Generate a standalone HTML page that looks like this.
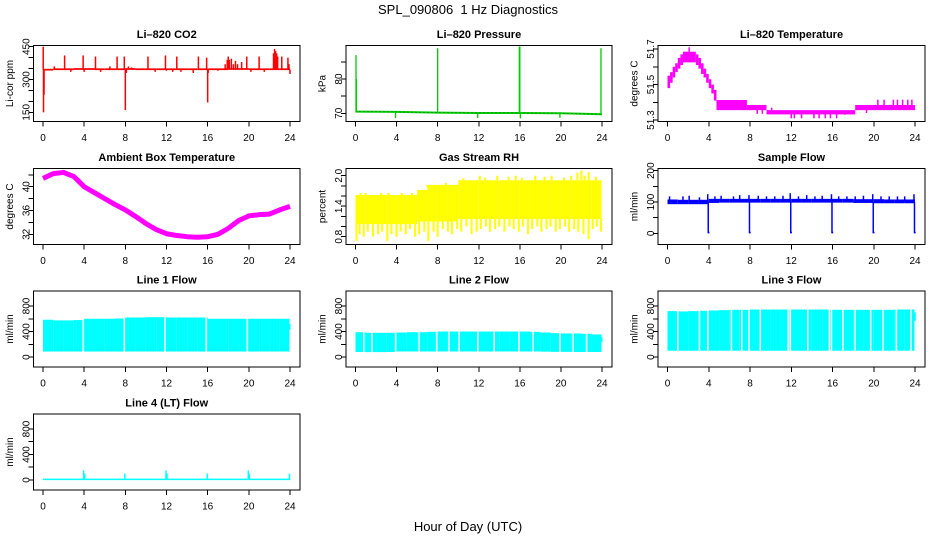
<!DOCTYPE html>
<html><head><meta charset="utf-8"><title>SPL_090806 1 Hz Diagnostics</title>
<style>
html,body{margin:0;padding:0;background:#fff;}
svg{display:block;font-family:"Liberation Sans",Arial,sans-serif;}
</style></head>
<body>
<svg id="chart" width="936" height="540" viewBox="0 0 936 540" xmlns="http://www.w3.org/2000/svg">
<text x="468" y="14" font-size="13" text-anchor="middle">SPL_090806&#160; 1 Hz Diagnostics</text>
<text x="468" y="531" font-size="13" text-anchor="middle">Hour of Day (UTC)</text>
</svg>
<script>
// ---------- data ----------
const xTicks = [0,4,8,12,16,20,24];

// CO2
const co2Hours = [0,1,2,3,4,5,6,7,8,9,10,11,12,13,14,15,16,17,18,19,20,21,22,23,24];
const co2Base = [345,347,347,348,348,347,347,347,348,347,347,347,347,347,347,347,347,347,348,348,347,347,347,347,345];
const co2SpikeHours = [0.02,0.05,0.1,1.1,2.1,2.7,3.9,4.0,5.1,5.6,6.5,7.2,7.9,8.0,8.1,8.3,8.6,10.2,10.9,11.9,12.0,12.6,13.0,13.4,14.6,15.1,15.9,16.0,16.05,17.0,17.7,17.9,18.0,18.1,18.3,18.5,18.7,18.9,19.3,19.8,20.2,21.0,21.5,22.4,22.5,22.6,22.7,22.8,23.2,23.8,23.9,24.0];
const co2SpikeVals = [450,150,230,360,410,335,410,335,405,335,360,405,405,160,330,360,355,405,335,410,340,335,405,335,330,405,400,195,330,340,370,390,405,390,395,370,385,370,380,405,335,405,335,420,440,430,420,405,405,400,370,325];

// Pressure
const presHours = [0,4,8,12,16,20,24];
const presBase = [70.5,70.4,70.2,70.1,70.1,70.0,69.7];
const presSpikeHours = [0.05,0.08,3.9,8.0,11.9,15.95,16.0,16.05,19.9,23.9];
const presSpikeVals = [87,80,68.6,89,68.6,89.5,89.5,68.5,68.7,89];

// Li-820 temperature (step envelope)
const tempHours = [0,0.25,0.5,0.75,1.0,1.25,1.5,2.75,3.0,3.25,3.5,3.75,4.0,4.25,4.5,4.75,7.7,9.6,18.2,24];
const tempLo = [51.48,51.51,51.54,51.57,51.59,51.61,51.625,51.61,51.59,51.56,51.54,51.51,51.48,51.45,51.41,51.356,51.356,51.332,51.356];
const tempHi = [51.55,51.57,51.60,51.62,51.65,51.67,51.685,51.67,51.65,51.62,51.59,51.56,51.53,51.50,51.47,51.413,51.385,51.356,51.385];
const tempSpikeHours = [2.1,7.5,8.7,9.2,10.1,12,12.3,13,14.2,14.7,15.3,15.8,16.4,17.2,19.3,20.4,21,21.9,22.3,22.8,23.3,23.7];
const tempSpikeVals = [51.71,51.41,51.335,51.335,51.37,51.31,51.31,51.31,51.31,51.31,51.31,51.31,51.31,51.33,51.34,51.415,51.415,51.415,51.415,51.415,51.415,51.415];

// Ambient box temperature
const ambHours = [0,1,2,3,4,5,6,7,8,9,10,11,12,13,14,15,16,17,18,19,20,21,22,23,24];
const ambVals = [41.4,42.2,42.4,41.7,40.0,39.0,38.0,37.0,36.1,35.0,33.8,32.8,32.1,31.8,31.6,31.5,31.6,32.0,33.0,34.3,35.1,35.3,35.4,36.1,36.7];

// Gas stream RH (per-hour envelope)
const rhHi = [1.62,1.62,1.62,1.62,1.62,1.62,1.72,1.82,1.82,1.82,1.91,1.91,1.91,1.91,1.91,1.91,1.91,1.91,1.91,1.91,1.91,1.91,1.91,1.91];
const rhLo = [1.05,1.05,1.05,1.05,1.05,1.05,1.1,1.1,1.1,1.1,1.15,1.15,1.15,1.15,1.15,1.15,1.15,1.15,1.15,1.15,1.15,1.15,1.15,1.15];
const rhDipHours = [0.1,0.4,0.8,1.2,1.7,2.2,2.6,3.1,3.5,4.0,4.4,4.9,5.3,5.8,6.2,6.7,7.1,7.6,8.0,8.5,9.0,9.4,9.9,10.3,10.8,11.3,11.8,12.2,12.7,13.1,13.6,14.0,14.5,15.0,15.4,15.9,16.3,16.8,17.2,17.7,18.1,18.6,19.0,19.5,19.9,20.4,20.8,21.3,21.7,22.2,22.7,23.1,23.5,23.9];
const rhDipVals = [0.72,0.85,0.8,0.9,0.8,0.85,0.9,0.72,0.85,0.8,0.9,0.85,0.95,0.8,0.85,0.9,0.72,0.9,0.8,0.95,0.9,0.85,0.95,0.9,1.0,0.85,0.9,0.95,1.0,0.9,0.95,1.0,0.9,1.0,0.95,0.9,1.0,0.85,0.95,1.0,0.9,0.95,1.0,0.9,0.95,1.0,0.9,0.95,0.9,0.85,0.75,0.95,1.0,0.9];
const rhSpikeHours = [0.5,1.0,2.5,3.2,4.5,5.5,7.0,8.8,10.5,12.1,12.6,13.8,14.9,15.6,16.2,17.5,18.4,19.1,20.3,21.0,21.6,22.0,22.3,22.7,23.4];
const rhSpikeVals = [1.66,1.66,1.66,1.66,1.66,1.66,1.77,1.86,1.95,2.0,1.96,2.0,1.98,2.0,1.96,2.0,1.98,2.0,1.96,2.0,2.06,2.1,2.0,2.07,1.98];

// Sample flow
const sfHours = [0,1,2,3,4,5,6,7,8,9,10,11,12,13,14,15,16,17,18,19,20,21,22,23,24];
const sfLo = [93,93,93,93,97,98,98,98,98,98,98,98,98,98,98,98,98,98,97,97,96,96,96,96,96];
const sfHi = [108,107,107,107,110,110,110,110,110,110,110,110,110,110,110,110,110,110,109,109,109,108,108,108,108];
const sfSpikeHours = [0.2,1.5,2.1,3.1,3.9,4.6,5.2,6.4,7.0,7.9,8.8,9.6,10.4,11.2,11.9,12.7,13.5,14.3,15.0,15.9,16.6,17.4,18.2,19.0,19.9,20.7,21.5,22.3,23.0,23.9];
const sfSpikeVals = [118,118,120,115,125,118,120,118,122,122,120,118,118,120,128,118,122,118,120,125,118,118,118,120,125,118,118,118,118,125];
const sfDipHours = [3.95,7.95,11.95,15.95,19.95,23.95];
const sfDipVals = [0,0,0,0,0,0];

// Line flows (per-hour envelope + gap hours)
const l1Hi = [585,575,575,580,600,600,600,605,620,620,625,625,620,620,620,620,600,600,600,600,600,600,600,600];
const l1Lo = [87,87,87,87,87,87,87,87,87,87,87,87,87,87,87,87,87,87,87,87,87,87,87,87];
const l1Gaps = [3.9,7.9,11.85,15.85,19.85];
const l2Hi = [390,380,380,380,385,390,390,395,400,400,400,400,400,400,400,400,400,395,385,375,370,370,365,355];
const l2Lo = [80,78,78,80,88,88,88,88,88,88,88,88,88,88,88,88,88,88,85,82,82,80,80,80];
const l2Gaps = [0.8,1.6,3.9,6.2,7.9,9.1,10.1,11.9,13.5,15.9,17.3,19.9,21.2,22.5];
const l3Hi = [720,715,720,725,730,735,740,740,745,745,745,745,745,745,745,745,740,740,740,740,740,740,745,745];
const l3Lo = [100,100,100,100,100,100,100,100,100,100,100,100,100,100,100,100,100,100,100,100,100,100,100,100];
const l3Gaps = [1.0,3.1,3.9,6.2,7.2,7.9,9.0,11.7,11.9,13.6,15.7,15.9,17.0,18.2,19.7,20.9,22.2,23.6];
const l4Base = 10;
const l4SpikeHours = [3.95,4.05,7.95,11.95,12.05,15.95,19.95,20.05,23.95];
const l4SpikeVals = [150,100,100,150,100,100,150,100,100];

// ---------- drawing ----------
const NS = 'http://www.w3.org/2000/svg';
const svg = document.getElementById('chart');
const colL = [33.5,346,658], colR = [300,612,925];
const rowT = [45.5,168.5,291,414], rowB = [121.5,244.5,367,490];

function mk(tag, attrs, parent){
  const e = document.createElementNS(NS, tag);
  for (const k in attrs) e.setAttribute(k, attrs[k]);
  parent.appendChild(e);
  return e;
}

function panel(key, col, row, title, ylab, ymin, ymax, yTicks, yLabels){
  const L = colL[col], R = colR[col], T = rowT[row], B = rowB[row];
  const x0 = L + 9.5, x24 = R - 10;
  const sx = h => x0 + (x24 - x0) * h / 24;
  const sy = v => B - (B - T) * (v - ymin) / (ymax - ymin);
  const g = mk('g', {}, svg);
  
  
  const data = mk('g', {}, g);
  
  
  const axes = mk('g', {stroke:'#000','stroke-width':1,'shape-rendering':'crispEdges'}, g);
  
  
  const box = mk('rect', {x:L, y:T, width:R-L, height:B-T, fill:'none'}, axes);
  
  
  mk('line', {x1:sx(0), x2:sx(24), y1:B, y2:B}, axes);
  xTicks.forEach(t => {
    mk('line', {x1:sx(t), x2:sx(t), y1:B, y2:B+5}, axes);
    const tx = mk('text', {x:sx(t), y:B+19.5, 'font-size':10, 'text-anchor':'middle', stroke:'none', fill:'#000'}, g);
    tx.textContent = t;
    
    
  });
  yTicks.forEach(t => { mk('line', {x1:L-5, x2:L, y1:sy(t), y2:sy(t)}, axes); });
  yLabels.forEach(t => {
    const ty = mk('text', {transform:`translate(${L-4},${sy(t)}) rotate(-90)`, 'font-size':10, 'text-anchor':'middle', fill:'#000'}, g);
    ty.textContent = t;
    
    
  });
  const tt = mk('text', {x:(L+R)/2, y:T-7.5, 'font-size':11, 'font-weight':'bold', 'text-anchor':'middle', fill:'#000'}, g);
  tt.textContent = title;
  
  
  const yl = mk('text', {transform:`translate(${L-20.5},${(T+B)/2}) rotate(-90)`, 'font-size':10, 'text-anchor':'middle', fill:'#000'}, g);
  yl.textContent = ylab;
  
  
  return {sx, sy, g:data};
}

function vline(p, h, a, b, color, w, name){
  const e = mk('line', {x1:p.sx(h), x2:p.sx(h), y1:p.sy(a), y2:p.sy(b), stroke:color, 'stroke-width':w}, p.g);
  
  
  return e;
}
function band(p, h1, h2, lo, hi, color, name){
  const e = mk('rect', {x:p.sx(h1), y:p.sy(hi), width:Math.max(0.5,p.sx(h2)-p.sx(h1)), height:Math.max(1,p.sy(lo)-p.sy(hi)), fill:color}, p.g);
  
  
  return e;
}

// CO2
{
  const p = panel('co2', 0, 0, 'Li\u2013820 CO2', 'Li-cor ppm', 108, 455.5, [150,200,250,300,350,400,450], [150,300,450]);
  for (let i=0;i<co2Hours.length-1;i++) band(p, co2Hours[i], co2Hours[i+1], co2Base[i]-4, co2Base[i]+4, '#ff0000', 'co2-band');
  co2SpikeHours.forEach((h,i)=>{ const b = co2Base[Math.min(24,Math.round(h))]; vline(p, h, b, co2SpikeVals[i], '#ff0000', 1.5, 'co2-spike'); });
}
// Pressure
{
  const p = panel('pressure', 1, 0, 'Li\u2013820 Pressure', 'kPa', 67.6, 89.8, [70,75,80,85], [70,80]);
  const pts = presHours.map((h,i)=>p.sx(h)+','+p.sy(presBase[i])).join(' ');
  const pl = mk('polyline', {points:pts, fill:'none', stroke:'#00cc00', 'stroke-width':2}, p.g);
  
  
  const pd = mk('polyline', {points:pts, fill:'none', stroke:'#005500', 'stroke-width':0.8, 'stroke-dasharray':'1 3'}, p.g);
  
  
  presSpikeHours.forEach((h,i)=>{ const b = presBase[Math.min(6,Math.round(h/4))]; vline(p, h, b, presSpikeVals[i], '#00cc00', 1.3, 'pressure-spike'); });
}
// Li-820 temperature
{
  const p = panel('li820-temp', 2, 0, 'Li\u2013820 Temperature', 'degrees C', 51.292, 51.72, [51.3,51.4,51.5,51.6,51.7], ['51.3','51.5','51.7']);
  for (let i=0;i<tempLo.length;i++) band(p, tempHours[i], tempHours[i+1], tempLo[i], tempHi[i], '#ff00ff', 'temp-band');
  tempSpikeHours.forEach((h,i)=>{ let k=0; while(k<tempHours.length-2 && tempHours[k+1]<=h) k++; vline(p, h, (tempLo[k]+tempHi[k])/2, tempSpikeVals[i], '#ff00ff', 1.5, 'temp-spike'); });
}
// Ambient
{
  const p = panel('ambient-temp', 0, 1, 'Ambient Box Temperature', 'degrees C', 30.29, 43.06, [32,34,36,38,40,42], [32,36,40]);
  const pts = ambHours.map((h,i)=>p.sx(h)+','+p.sy(ambVals[i])).join(' ');
  const pl = mk('polyline', {points:pts, fill:'none', stroke:'#ff00ff', 'stroke-width':5, 'stroke-linejoin':'round'}, p.g);
  
  
}
// RH
{
  const p = panel('gas-rh', 1, 1, 'Gas Stream RH', 'percent', 0.647, 2.142, [0.8,1.0,1.2,1.4,1.6,1.8,2.0], ['0.8','1.4','2.0']);
  for (let i=0;i<24;i++) band(p, i, i+1-(i==23?0.05:0), rhLo[i], rhHi[i], '#ffff00', 'rh-band');
  rhDipHours.forEach((h,i)=>vline(p, h, rhLo[Math.min(23,Math.floor(h))], rhDipVals[i], '#ffff00', 2, 'rh-dip'));
  rhSpikeHours.forEach((h,i)=>vline(p, h, rhHi[Math.min(23,Math.floor(h))], rhSpikeVals[i], '#ffff00', 2, 'rh-spike'));
}
// Sample flow
{
  const p = panel('sample-flow', 2, 1, 'Sample Flow', 'ml/min', -35.8, 207, [0,50,100,150,200], [0,100,200]);
  for (let i=0;i<sfHours.length-1;i++) band(p, sfHours[i], sfHours[i+1], sfLo[i], sfHi[i], '#0000ff', 'sample-flow-band');
  sfSpikeHours.forEach((h,i)=>vline(p, h, 100, sfSpikeVals[i], '#0000ff', 1.5, 'sample-flow-spike'));
  sfDipHours.forEach((h,i)=>{
    vline(p, h, 100, sfDipVals[i], '#0000ff', 1.5, 'sample-flow-dip');
    band(p, h-0.02, h+0.12, sfDipVals[i], sfDipVals[i]+5, '#0000ff', 'sample-flow-dip-foot');
  });
}
// Line flows
function flowPanel(key, col, row, title, hi, lo, gaps){
  const p = panel(key, col, row, title, 'ml/min', -155, 1035, [0,200,400,600,800], [0,400,800]);
  for (let i=0;i<24;i++) band(p, i, i+1-(i==23?0.05:0), lo[i], hi[i], '#00ffff', key+'-band');
  gaps.forEach(h=>vline(p, h, lo[Math.floor(h)]-10, hi[Math.floor(h)]+10, '#ffffff', 1.5, key+'-gap'));
  return p;
}
{
  const p = flowPanel('line1-flow', 0, 2, 'Line 1 Flow', l1Hi, l1Lo, l1Gaps);
  band(p, 23.95, 24.05, 430, 520, '#00ffff', 'line1-flow-tail');
}
{
  const p = flowPanel('line2-flow', 1, 2, 'Line 2 Flow', l2Hi, l2Lo, l2Gaps);
  band(p, 23.95, 24.05, 240, 310, '#00ffff', 'line2-flow-tail');
}
{
  const p = flowPanel('line3-flow', 2, 2, 'Line 3 Flow', l3Hi, l3Lo, l3Gaps);
  band(p, 23.95, 24.08, 570, 700, '#00ffff', 'line3-flow-tail');
}
{
  const p = panel('line4-flow', 0, 3, 'Line 4 (LT) Flow', 'ml/min', -157, 1035, [0,200,400,600,800], [0,400,800]);
  band(p, 0, 24, l4Base-12, l4Base+12, '#00ffff', 'line4-flow-band');
  l4SpikeHours.forEach((h,i)=>vline(p, h, l4Base, l4SpikeVals[i], '#00ffff', 1.5, 'line4-flow-spike'));
}
</script>
</body></html>
